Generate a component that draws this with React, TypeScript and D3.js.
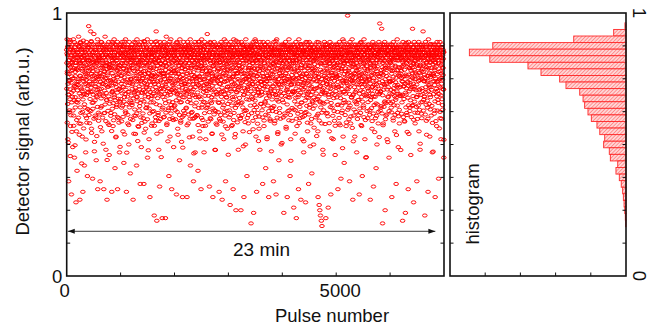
import { scaleLinear } from "d3";

// detector signal (percent of full scale), one row per 200 pulses, every 4th pulse
const PULSE_STEP = 4;
const signalRows = [
  "86 81 90 77 84 52 87 69 82 36 88 74 85 63 80 89 71 86 57 83 78 87 31 84 66 81 88 75 49 85 82 90 61 86 72 79 45 87 84 68 76 83 88 28 81 55 86 73 40 85",
  "85 79 88 67 83 91 74 86 58 82 87 29 81 76 89 84 62 80 86 71 83 88 53 78 85 32 87 69 82 84 75 86 42 81 88 64 79 85 47 73 84 89 60 82 77 86 38 83 70 87",
  "87 82 95 78 85 63 88 73 84 80 86 93 70 83 89 56 81 87 76 84 37 85 79 88 66 82 92 74 86 51 83 87 61 80 85 72 88 44 81 77 86 68 84 90 33 82 75 87 59 83",
  "84 88 71 82 86 36 79 87 64 83 89 76 85 55 81 88 69 84 80 87 73 86 33 83 78 88 62 85 91 75 82 87 48 80 84 67 86 29 81 88 77 85 58 83 72 89 84 46 79 86",
  "86 80 87 74 84 62 88 79 83 32 85 89 70 82 86 57 81 87 76 84 90 68 83 85 41 79 88 73 86 53 82 87 65 84 78 89 33 81 86 71 84 60 88 77 83 47 85 80 87 66",
  "87 83 76 88 85 64 81 89 72 84 86 55 82 87 79 43 85 88 68 83 80 86 74 90 62 84 87 32 81 85 77 88 83 58 86 70 82 87 50 84 89 79 85 66 83 39 87 75 81 86",
  "84 87 80 65 88 83 73 86 29 82 85 78 89 61 84 87 70 81 86 54 83 88 76 85 42 82 90 68 87 79 86 57 84 81 74 88 63 85 83 71 87 35 82 86 77 89 49 84 80 67",
  "86 82 88 75 84 60 87 80 35 85 83 89 70 86 78 84 56 88 81 72 87 64 85 82 90 45 83 77 86 68 84 88 52 81 86 74 30 85 79 87 82 66 89 84 76 83 58 86 71 85",
  "85 88 79 66 84 87 23 82 86 73 89 81 85 59 87 93 76 83 21 86 80 88 70 84 62 87 82 48 85 78 86 34 83 89 74 81 87 55 84 69 88 77 85 22 82 86 64 80 87 71",
  "87 83 89 76 85 67 88 81 22 84 86 72 91 80 87 58 83 85 74 88 82 63 86 84 38 79 88 70 85 53 84 87 77 90 65 83 86 33 81 75 88 60 84 82 71 87 49 85 79 86",
  "84 86 78 88 63 83 87 74 81 31 85 89 69 82 86 56 84 88 77 80 87 72 85 44 83 90 66 86 81 59 88 79 84 51 87 82 75 30 85 68 83 86 61 89 80 73 87 84 70 85",
  "86 81 88 73 85 64 87 83 30 84 89 77 82 86 58 84 88 70 81 85 87 67 83 90 42 86 79 84 62 88 80 85 75 87 53 82 86 71 36 83 88 60 84 81 76 89 47 85 82 68",
  "85 87 82 74 88 61 84 86 79 40 83 89 68 85 87 76 55 82 88 80 86 72 84 33 87 81 90 64 85 78 84 88 57 83 86 70 82 47 87 75 89 66 85 80 84 52 88 73 83 86",
  "86 84 92 77 88 65 83 87 72 85 82 88 34 84 79 89 60 86 81 74 87 68 85 83 54 88 76 84 30 86 80 87 71 85 89 63 82 86 48 84 88 75 83 58 87 81 69 85 84 78",
  "84 87 79 88 66 85 82 32 86 73 88 81 84 59 87 76 89 83 70 85 86 29 82 88 64 84 79 87 52 81 85 90 74 83 86 61 88 36 84 77 82 87 68 85 80 56 86 72 83 88",
  "87 83 86 75 88 63 84 81 27 85 86 89 71 82 87 57 84 79 88 68 83 85 33 87 76 90 62 84 86 73 81 88 54 85 83 25 87 70 84 79 88 65 86 82 77 89 48 85 80 84",
  "85 88 80 72 86 84 60 87 25 83 89 78 85 66 82 88 74 84 55 86 87 81 30 85 69 88 83 77 86 50 84 90 63 82 87 75 38 85 88 71 83 86 58 84 79 87 67 82 85 76",
  "86 84 88 77 85 20 87 82 68 84 88 73 86 81 59 89 84 24 87 79 83 87 65 85 90 72 82 86 53 88 84 32 81 87 76 85 62 88 80 70 87 83 56 86 78 84 48 89 82 74",
  "85 88 82 70 87 84 63 86 79 35 84 89 76 83 87 57 85 81 88 72 86 66 84 41 88 80 85 74 87 52 83 87 78 89 61 82 86 30 84 69 88 75 85 83 59 87 80 71 86 84",
  "87 83 86 78 88 64 84 81 72 36 85 89 80 86 58 83 87 75 84 69 88 31 85 82 90 67 86 79 84 54 83 87 73 85 44 88 81 62 86 77 84 86 70 82 87 50 85 76 88 81",
  "86 84 88 79 85 66 87 24 83 74 88 82 86 61 84 89 77 85 56 87 81 86 71 30 85 88 68 83 87 79 84 90 63 86 82 75 38 88 85 52 87 80 84 73 86 59 83 88 70 85",
  "85 87 81 26 88 84 70 86 78 83 87 63 85 89 75 22 84 86 57 82 88 80 84 68 87 33 85 90 73 86 82 86 60 84 79 88 29 85 66 87 84 76 88 52 86 81 71 85 83 47",
  "86 88 83 74 85 62 87 80 28 84 89 77 86 82 68 85 88 55 84 79 87 70 35 86 83 89 64 85 81 75 84 87 58 88 80 72 86 39 83 85 88 66 84 78 87 50 85 82 71 86",
  "87 84 86 79 88 67 85 82 74 86 83 89 61 87 84 55 30 86 77 85 88 27 84 72 25 86 66 23 83 81 85 21 87 58 19 84 70 88 48 86 82 87 63 85 76 89 80 84 69 88",
  "85 88 22 80 86 73 84 87 62 83 88 78 85 26 87 82 68 86 55 84 81 89 70 85 86 31 83 88 75 84 87 64 86 82 79 85 52 88 72 83 84 86 59 87 80 46 85 77 88 83",
  "86 83 88 76 85 65 87 81 33 84 88 72 86 84 58 89 80 85 69 87 83 86 37 88 78 84 62 86 82 74 85 90 53 83 87 70 81 43 88 84 86 79 84 66 87 82 57 85 75 88",
  "84 87 82 99 86 71 85 88 64 83 87 79 36 85 89 76 84 58 86 81 88 68 85 83 90 74 87 29 84 80 86 61 83 88 77 85 53 87 82 70 84 88 66 86 81 47 85 78 87 84",
  "86 84 88 80 85 67 87 31 83 76 88 82 86 62 84 89 73 85 57 87 83 38 85 88 70 86 81 64 84 90 87 79 84 52 86 75 88 45 83 85 85 69 87 82 78 86 60 84 88 72",
  "85 88 83 75 86 63 87 81 29 84 87 79 85 68 88 84 56 86 82 72 89 77 84 34 86 83 65 88 80 85 84 87 60 85 81 41 88 73 86 50 86 82 70 87 84 58 85 76 89 83",
  "86 88 96 82 85 70 87 84 64 86 83 94 77 88 85 20 86 81 58 87 88 73 84 86 66 89 82 25 85 79 87 61 85 83 76 88 52 84 80 86 84 86 68 87 82 45 88 74 85 83",
  "85 87 81 74 88 64 86 83 30 84 88 78 85 86 60 89 82 70 87 84 83 86 55 85 80 88 67 84 35 87 86 72 84 90 62 83 87 77 49 85 88 82 86 58 84 79 87 69 85 83",
  "86 84 88 78 85 66 87 82 21 83 89 80 86 72 84 87 59 85 76 88 84 24 86 83 69 88 81 62 85 87 82 87 74 85 33 89 84 54 86 79 87 85 64 83 88 71 46 86 80 84",
  "85 88 83 77 94 86 65 87 81 28 87 84 89 72 85 82 58 86 88 75 83 86 68 84 36 87 80 88 62 85 86 79 84 89 55 83 87 71 85 48 88 82 86 66 84 78 87 60 83 85",
  "86 84 87 93 80 85 67 88 83 74 85 23 86 82 89 70 84 87 59 81 88 76 85 83 64 86 32 84 90 79 84 87 72 85 53 88 81 68 86 83 87 61 84 86 77 85 47 88 82 84",
  "85 87 82 76 88 84 63 86 79 30 88 81 85 70 87 83 57 84 89 74 86 83 67 85 88 37 82 87 72 84 84 89 60 86 80 85 52 87 77 83 87 82 88 65 84 79 86 71 85 45",
];

// the pulses in between (offset by 2), per mille of full scale
const signalRowsB = [
  "712 846 583 777 654 873 731 508 802 689 768 623 821 744 897 672 456 795 838 611 735 862 697 759 548 814 681 783 629 857 704 826 571 752 668 889 723 811 497 776 641 799 718 843 662 787 593 738 829 706",
  "783 659 841 726 602 874 748 815 537 694 807 762 641 886 717 579 833 685 751 428 864 703 788 624 819 671 742 895 561 797 728 836 653 774 692 853 610 767 804 519 746 688 823 583 759 712 877 635 791 724",
  "697 821 754 612 868 739 581 806 673 785 842 627 716 893 768 544 731 824 658 702 779 636 851 689 747 813 598 762 474 838 721 668 794 859 603 741 817 685 756 532 812 707 643 778 881 699 758 621 834 727",
  "758 614 827 693 772 849 566 738 801 675 712 889 646 793 731 818 602 767 857 503 684 745 831 619 776 705 863 652 798 727 841 589 753 696 812 668 787 441 834 719 763 628 871 742 683 806 574 725 792 655",
  "806 672 745 861 609 783 724 837 551 698 771 636 819 704 884 657 748 592 826 733 687 852 615 796 741 668 808 527 763 879 718 643 785 829 697 756 604 841 674 792 739 866 583 711 802 664 776 491 847 705",
  "673 798 731 846 588 762 819 694 647 873 741 605 787 718 834 663 756 891 538 809 692 774 626 845 708 781 653 827 469 736 859 682 747 613 796 725 838 574 768 701 784 641 812 733 667 855 597 749 821 686",
  "747 823 658 791 712 868 593 736 804 675 829 541 762 697 845 633 778 716 887 609 704 857 681 752 618 811 739 664 796 513 776 694 832 567 748 803 721 879 646 769 658 815 742 603 786 697 851 728 582 763",
  "821 696 753 618 842 707 779 664 893 545 734 811 587 768 683 826 741 638 797 716 865 652 728 803 596 757 691 839 478 772 709 843 637 784 752 618 816 699 861 726 674 792 748 571 833 685 765 624 807 739",
  "693 772 846 627 758 814 571 739 685 869 756 604 823 718 787 653 892 705 541 828 741 676 799 612 853 727 768 589 817 694 832 649 763 711 876 597 745 806 452 781 714 858 633 792 725 681 839 758 603 771",
  "768 836 605 749 692 873 728 814 657 783 621 797 738 856 574 761 703 829 686 512 845 713 776 638 807 742 664 891 597 752 689 824 751 618 786 707 848 639 771 733 804 661 727 862 593 779 716 835 645 697",
  "732 649 818 771 596 857 703 784 668 826 759 887 624 745 693 812 537 768 841 706 675 798 743 612 829 689 756 874 583 737 813 661 778 727 852 604 791 716 488 765 697 839 628 752 805 679 864 733 619 786",
  "786 712 853 637 769 821 694 748 573 837 705 662 791 876 728 614 808 753 681 527 848 739 598 774 716 833 657 792 863 702 765 624 819 687 741 598 856 729 775 466 803 688 757 831 645 718 792 605 842 751",
  "659 794 731 868 612 755 817 698 842 574 781 726 639 804 757 891 683 744 523 829 714 856 672 798 735 601 826 769 652 787 839 593 748 713 874 662 791 725 808 619 747 685 823 571 766 704 849 638 779 731",
  "824 703 766 641 859 728 587 793 685 752 711 846 623 779 738 817 664 887 596 745 773 658 832 706 542 769 724 851 637 798 689 815 751 614 786 732 873 671 803 479 758 627 841 699 763 818 575 746 829 693",
  "741 868 623 786 709 832 658 757 597 813 776 694 849 731 612 802 745 681 874 538 716 793 663 826 758 587 839 702 771 649 857 624 784 738 691 816 569 763 892 707 678 805 742 628 851 719 783 654 797 461",
  "694 817 758 603 846 721 779 664 828 751 613 785 702 869 737 648 812 574 756 833 729 671 794 846 593 768 711 857 682 527 803 746 639 781 724 895 657 769 815 698 772 584 831 706 749 662 843 718 609 788",
  "812 677 743 859 598 786 724 831 657 769 734 846 612 795 703 878 641 757 819 493 688 771 836 627 748 714 863 585 792 706 751 629 808 736 672 845 769 601 827 718 864 693 757 612 783 729 814 547 746 801",
  "723 791 648 837 702 765 874 619 784 741 856 673 729 807 558 748 693 826 764 631 788 712 845 667 739 893 604 772 818 686 642 759 823 711 786 579 844 733 697 513 769 832 606 751 718 867 685 797 738 655",
  "797 654 815 738 689 862 726 771 603 843 712 784 645 829 756 591 808 733 879 664 748 826 697 613 785 741 853 676 762 528 831 719 762 648 804 697 871 627 753 789 685 843 731 596 767 816 704 852 639 474",
  "752 839 671 794 627 768 721 857 693 806 646 775 838 703 864 589 742 815 688 731 893 624 756 813 679 737 602 786 841 547 714 801 663 749 827 694 771 638 856 728 783 598 834 717 762 685 819 741 506 797",
  "669 784 841 728 603 762 817 695 753 876 733 618 796 742 851 684 771 567 829 705 804 749 652 831 718 783 627 864 699 758 592 817 736 678 795 743 868 612 789 438 726 853 691 764 808 639 747 822 703 776",
  "818 697 752 633 843 729 786 664 871 541 746 809 678 821 713 598 764 837 652 793 731 864 617 779 706 848 689 753 582 826 772 643 815 739 697 882 624 758 803 716 659 791 748 834 604 767 725 853 687 512",
  "734 856 609 781 718 842 667 796 753 624 821 702 768 647 889 735 583 812 694 759 677 833 741 614 798 725 867 651 782 493 846 713 759 688 823 597 774 739 856 665 701 788 636 817 746 679 831 564 762 805",
  "783 648 826 712 759 603 847 694 771 532 715 862 673 798 741 826 617 756 889 682 756 591 812 738 664 853 723 784 641 807 692 837 749 621 776 708 864 659 733 461 828 714 781 655 843 697 762 809 578 745",
  "697 823 754 618 869 741 786 663 815 729 852 607 773 716 834 689 748 581 806 762 731 874 642 797 713 826 658 771 849 524 764 693 818 752 609 783 727 861 676 795 627 809 742 688 837 571 754 819 703 766",
  "842 716 679 803 757 624 869 738 791 652 719 784 846 601 763 829 697 752 573 814 676 833 724 862 648 787 711 843 629 486 797 743 658 816 735 892 669 768 807 701 754 612 827 693 778 741 856 584 733 819",
  "713 847 769 632 806 725 781 659 838 596 774 692 853 719 648 817 746 873 607 763 829 678 742 795 563 756 821 687 734 512 691 806 633 771 718 847 664 793 752 826 768 624 839 706 782 653 867 729 597 744",
  "796 669 832 748 611 784 727 859 693 764 637 813 752 887 706 574 768 823 681 741 852 718 663 796 739 827 648 773 604 807 729 844 687 756 812 593 771 736 869 452 683 797 742 627 858 714 786 661 824 703",
  "758 823 684 746 867 613 792 731 806 669 827 705 763 638 841 774 589 718 856 692 743 618 809 752 683 876 727 794 547 767 681 836 714 788 656 821 743 609 779 833 797 652 768 845 712 624 853 736 691 528",
  "812 694 757 629 838 771 703 862 646 783 723 859 618 794 741 687 826 573 765 708 786 643 817 726 879 664 748 801 596 839 657 772 731 846 614 793 709 855 682 509 841 718 663 789 752 627 814 736 871 694",
  "739 816 657 784 708 853 622 769 831 691 801 663 742 826 591 758 714 867 649 782 684 847 725 613 796 737 821 678 754 536 867 702 783 648 819 726 693 841 607 763 716 794 632 758 844 685 771 719 826 479",
  "684 829 753 617 796 741 862 689 738 812 758 604 841 722 673 805 784 587 856 731 823 697 766 641 887 714 759 826 612 548 736 861 678 795 723 649 818 766 702 843 791 627 745 812 668 853 727 781 604 759",
  "826 718 647 792 753 869 684 731 805 594 711 784 836 663 748 621 817 774 857 706 769 643 805 728 681 846 597 763 823 689 648 827 741 859 706 773 632 798 745 503 803 762 688 834 617 751 879 714 786 662",
  "747 862 703 776 629 818 741 683 849 766 682 797 753 614 836 718 872 651 794 537 813 736 667 785 742 598 827 703 761 847 726 654 843 771 689 814 633 756 882 718 791 708 826 647 763 859 582 739 805 473",
  "768 692 834 741 617 857 726 783 664 812 823 751 589 796 712 846 683 767 738 629 704 867 743 658 809 776 692 831 561 748 857 624 779 716 842 687 753 804 598 731 672 818 747 793 633 764 826 709 852 518",
];

const signal = signalRows.flatMap((row) => row.split(" ").map((v) => Number(v) / 100));
const signalB = signalRowsB.flatMap((row) => row.split(" ").map((v) => Number(v) / 1000));

// histogram of the signal: bin centres (width 0.025) and counts
const histBins = [
  0.95, 0.925, 0.9, 0.875, 0.85, 0.825, 0.8, 0.775, 0.75, 0.725, 0.7, 0.675, 0.65, 0.625, 0.6, 0.575,
  0.55, 0.525, 0.5, 0.475, 0.45, 0.425, 0.4, 0.375, 0.35, 0.325, 0.3, 0.275, 0.25, 0.225, 0.2,
];
const histCounts = [
  6, 70, 297, 757, 890, 774, 557, 483, 377, 341, 263, 244, 235, 216, 197, 165, 149, 121, 127, 95, 89,
  47, 57, 38, 27, 19, 15, 11, 7, 4, 2,
];
const BIN_WIDTH = 0.025;

const signalTicks = [0, 0.125, 0.25, 0.375, 0.5, 0.625, 0.75, 0.875, 1];
const signalLabels = [0, 1];
const pulseTicks = [1000, 2000, 3000, 4000, 5000, 6000];
const pulseLabels = [0, 5000];
const countTicks = [200, 400, 600, 800];

const span = { from: 20, to: 6840, level: 0.17, label: "23 min" };

const FONT = "Liberation Sans, Arial, Helvetica, sans-serif";

export default function App() {
  const width = 655;
  const height = 329;
  const top = 13;
  const bottom = 276;
  const left = { x0: 66.7, x1: 444 };
  const hist = { x0: 450, x1: 626 };
  const tick = 3.5;

  const x = scaleLinear().domain([0, 7000]).range([left.x0, left.x1]);
  const y = scaleLinear().domain([0, 1]).range([bottom, top]);
  const xc = scaleLinear().domain([0, 1000]).range([hist.x1, hist.x0]);

  return (
    <svg
      width={width}
      height={height}
      style={{ position: "absolute", left: 0, top: 0, display: "block", background: "#fff" }}
      fontFamily={FONT}
    >
      <defs>
        <pattern id="hatch" width={2.6} height={2.6} patternUnits="userSpaceOnUse" patternTransform="rotate(45)">
          <rect width={2.6} height={2.6} fill="#ffd6d6" />
          <line x1={0} y1={0} x2={0} y2={2.6} stroke="#ff5050" strokeWidth={1} />
        </pattern>
        <marker id="arrow" viewBox="0 0 10 10" refX={10} refY={5} markerWidth={7} markerHeight={7} orient="auto-start-reverse" markerUnits="userSpaceOnUse">
          <path d="M0,1.5 L10,5 L0,8.5 z" fill="#111" />
        </marker>
      </defs>

      {/* scatter */}
      <g fill="none" stroke="#ff0000" strokeWidth={0.95}>
        {signal.map((v, i) => (
          <ellipse key={`a-${i}`} cx={x(i * PULSE_STEP)} cy={y(v)} rx={2.3} ry={1.6} />
        ))}
        {signalB.map((v, i) => (
          <ellipse key={`b-${i}`} cx={x(i * PULSE_STEP + 2)} cy={y(v)} rx={2.3} ry={1.6} />
        ))}
      </g>

      {/* time span arrow */}
      <line
        x1={x(span.from)}
        x2={x(span.to)}
        y1={y(span.level)}
        y2={y(span.level)}
        stroke="#222"
        strokeWidth={0.9}
        markerStart="url(#arrow)"
        markerEnd="url(#arrow)"
      />
      <text x={x((span.from + span.to) / 2) + 10} y={y(span.level) + 25} fontSize={19} textAnchor="middle" fill="#111">
        {span.label}
      </text>

      {/* histogram */}
      <g fill="url(#hatch)" stroke="#ff2a2a" strokeWidth={0.9}>
        {histBins.map((b, i) => (
          <rect
            key={b}
            x={xc(histCounts[i])}
            y={y(b + BIN_WIDTH / 2)}
            width={xc(0) - xc(histCounts[i])}
            height={y(b - BIN_WIDTH / 2) - y(b + BIN_WIDTH / 2)}
          />
        ))}
      </g>

      {/* frames and ticks */}
      <g stroke="#111" fill="none">
        <rect x={left.x0} y={top} width={left.x1 - left.x0} height={bottom - top} strokeWidth={1.6} />
        <rect x={hist.x0} y={top} width={hist.x1 - hist.x0} height={bottom - top} strokeWidth={1.6} />
        {signalTicks.slice(1, -1).map((t) => (
          <g key={`s-${t}`} strokeWidth={1}>
            <line x1={left.x0} x2={left.x0 + tick} y1={y(t)} y2={y(t)} />
            <line x1={left.x1} x2={left.x1 - tick} y1={y(t)} y2={y(t)} />
            <line x1={hist.x0} x2={hist.x0 + tick} y1={y(t)} y2={y(t)} />
            <line x1={hist.x1} x2={hist.x1 - tick} y1={y(t)} y2={y(t)} />
          </g>
        ))}
        {pulseTicks.map((t) => (
          <line key={`p-${t}`} x1={x(t)} x2={x(t)} y1={bottom} y2={bottom - tick} strokeWidth={1} />
        ))}
        {countTicks.map((t) => (
          <line key={`c-${t}`} x1={xc(t)} x2={xc(t)} y1={bottom} y2={bottom - tick} strokeWidth={1} />
        ))}
      </g>

      {/* labels */}
      <g fontSize={18.5} fill="#111">
        {signalLabels.map((v) => (
          <text key={`sl-${v}`} x={left.x0 - 4.5} y={y(v) + 6.5} textAnchor="end">
            {v}
          </text>
        ))}
        {pulseLabels.map((v) => (
          <text key={`pl-${v}`} x={x(v) + (v === 0 ? -2 : 4)} y={297} textAnchor="middle">
            {v}
          </text>
        ))}
        {signalLabels.map((v) => (
          <text key={`hl-${v}`} transform={`translate(${hist.x1 + 6.5},${y(v)}) rotate(90)`} textAnchor="middle">
            {v}
          </text>
        ))}
        <text x={332} y={322} textAnchor="middle">
          Pulse number
        </text>
        <text transform={`translate(28.5,${(top + bottom) / 2 - 3}) rotate(-90)`} textAnchor="middle">
          Detector signal (arb.u.)
        </text>
        <text transform="translate(479,204) rotate(-90)" textAnchor="middle">
          histogram
        </text>
      </g>
    </svg>
  );
}
